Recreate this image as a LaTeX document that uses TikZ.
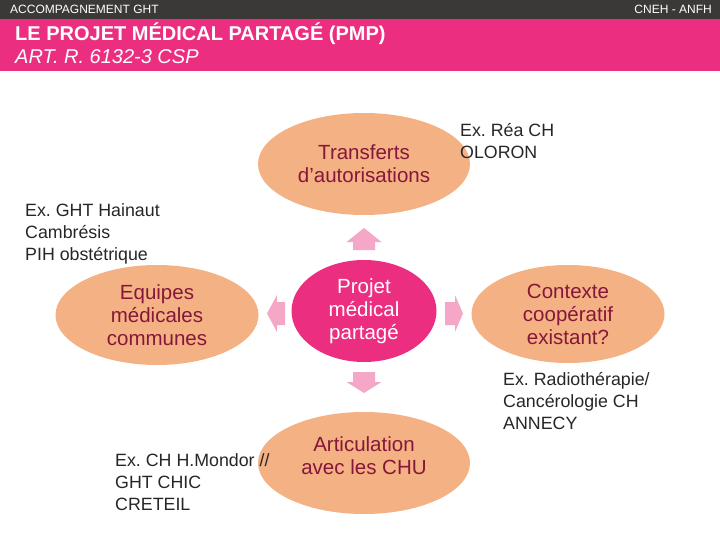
\documentclass[tikz,border=0pt]{standalone}
\usepackage{fontspec}
\setmainfont{Liberation Sans}
\usetikzlibrary{shapes.geometric}
\frenchspacing
\definecolor{darkbar}{HTML}{3B3838}
\definecolor{pinkc}{HTML}{EC2E80}
\definecolor{peachc}{HTML}{F4B183}
\definecolor{maroon}{HTML}{85173A}
\definecolor{arrowc}{HTML}{F4A7C7}
\definecolor{notec}{HTML}{262626}
\begin{document}
\begin{tikzpicture}[x=1pt,y=-1pt,
  peach/.style={ellipse, fill=peachc, text=maroon, inner sep=0, align=center,
    font=\fontsize{20.5}{23}\selectfont},
  hub/.style={ellipse, fill=pinkc, text=white, inner sep=0, align=center,
    font=\fontsize{20.5}{23}\selectfont},
  note/.style={anchor=west, align=left, inner sep=0, text=notec,
    font=\fontsize{17.8}{22}\selectfont},
  blockarrow/.style={fill=arrowc}]
\useasboundingbox (0,0) rectangle (720,540);
% header
\fill[darkbar] (0,0) rectangle (720,19);
\fill[pinkc] (0,19) rectangle (720,71);
\node[anchor=base west, inner sep=0, text=white, font=\fontsize{12}{14}\selectfont] (hl) at (10,14) {ACCOMPAGNEMENT GHT};
\node[anchor=base east, inner sep=0, text=white, font=\fontsize{12}{14}\selectfont] (hr) at (712,14) {CNEH - ANFH};
\node[anchor=base west, inner sep=0, text=white, font=\fontsize{20}{23}\selectfont\bfseries] (title) at (15,40.5) {LE PROJET MÉDICAL PARTAGÉ (PMP)};
\node[anchor=base west, inner sep=0, text=white, font=\fontsize{20}{23}\selectfont\itshape] (sub) at (15,63.5) {ART. R. 6132-3 CSP};
% ellipses
\node[hub, minimum width=145, minimum height=102] (pmp) at (364,311) {Projet\\médical\\partagé};
\node[peach, minimum width=212, minimum height=102] (tr) at (364,164) {Transferts\\d’autorisations};
\node[peach, minimum width=203, minimum height=100] (eq) at (157,315) {Equipes\\médicales\\communes};
\node[peach, minimum width=193, minimum height=98] (co) at (568,314) {Contexte\\coopératif\\existant?};
\node[peach, minimum width=212, minimum height=102] (chu) at (364,463) {};
\node[text=maroon, inner sep=0, align=center, font=\fontsize{20.5}{23}\selectfont] (chut) at (364,456) {Articulation\\avec les CHU};
% block arrows
\fill[blockarrow] (353,250) -- (353,242) -- (346.5,242) -- (364,228) -- (381.5,242) -- (375,242) -- (375,250) -- cycle;
\fill[blockarrow] (353,372) -- (353,382) -- (346.5,382) -- (364,393) -- (381.5,382) -- (375,382) -- (375,372) -- cycle;
\fill[blockarrow] (285,302) -- (277,302) -- (277,295) -- (267,313.5) -- (277,332) -- (277,325) -- (285,325) -- cycle;
\fill[blockarrow] (445,302) -- (455,302) -- (455,295) -- (463,313.5) -- (455,332) -- (455,325) -- (445,325) -- cycle;
% notes
\node[note] (n1) at (25,234) {Ex. GHT Hainaut\\Cambrésis\\PIH obstétrique};
\node[note] (n2) at (460,141) {Ex. Réa CH\\OLORON};
\node[note] (n3) at (503,401) {Ex. Radiothérapie/\\Cancérologie CH\\ANNECY};
\node[note] (n4) at (115,482) {Ex. CH H.Mondor //\\GHT CHIC\\CRETEIL};
\end{tikzpicture}
\end{document}
